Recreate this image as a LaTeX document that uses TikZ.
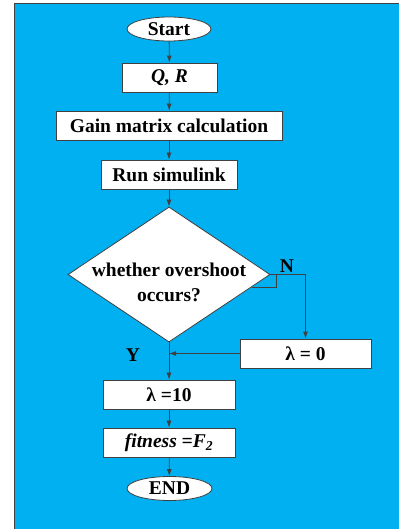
\documentclass[tikz,border=0pt]{standalone}
\usepackage{fontspec}
\setmainfont{Liberation Serif}
\usetikzlibrary{arrows.meta,shapes.geometric}
\definecolor{skyfill}{HTML}{00B0F0}
\definecolor{edgegray}{HTML}{404040}

\begin{document}
\begin{tikzpicture}[x=1pt,y=-1pt,
    every node/.style={font=\fontsize{19.5}{25}\selectfont\bfseries},
    box/.style={draw=edgegray,fill=white,line width=0.8pt,minimum height=29pt,inner sep=0pt},
    term/.style={ellipse,draw=edgegray,fill=white,line width=0.8pt,minimum height=24pt,inner sep=0pt},
    decide/.style={diamond,draw=edgegray,fill=white,line width=0.8pt,minimum width=202pt,minimum height=135pt,inner sep=0pt},
    flow/.style={draw=edgegray,line width=0.8pt,-{Latex[length=7pt,width=5pt]}}]
  \useasboundingbox (0,0) rectangle (399,529);
  % background panel
  \fill[skyfill] (14,4) rectangle (399,529);
  \draw[edgegray,line width=1pt] (14,529) -- (14,4) -- (399,4);

  \node[term,minimum width=84pt] (start) at (169,29) {Start};
  \node[box,minimum width=95pt] (qr) at (169.5,77.5) {\itshape Q, R};
  \node[box,minimum width=226pt] (gain) at (169,125.5) {Gain matrix calculation};
  \node[box,minimum width=136pt] (run) at (169,174.5) {Run simulink};
  \node[decide] (over) at (169,274.5) {};
  \node[align=center,inner sep=0pt] (overtext) at (169,282) {whether overshoot\\occurs?};
  \node[box,minimum width=131pt] (lzero) at (305.5,353.5) {λ = 0};
  \node[box,minimum width=132pt] (lten) at (169,394.5) {λ =10};
  \node[box,minimum width=132pt] (fit) at (169,442.5) {\itshape fitness =F\textsubscript{2}};
  \node[term,minimum width=85pt] (stop) at (169.5,488.5) {END};

  \node (yes) at (133,355) {Y};
  \node (no) at (287,266) {N};

  \draw[flow] (start) -- (qr);
  \draw[flow] (qr) -- (gain);
  \draw[flow] (gain) -- (run);
  \draw[flow] (run) -- (over);
  \draw[flow] (over) -- (lten);
  \draw[flow] (lten) -- (fit);
  \draw[flow] (fit) -- (stop);
  \draw[flow] (over.east) -| (lzero.north);
  \draw[flow] (lzero.west) -- (lzero.west -| over.south);
  \draw[edgegray,line width=0.8pt] (over.east) -- ++(5.7,0) -- ++(0,13) -- ++(-23.7,0);
\end{tikzpicture}
\end{document}
